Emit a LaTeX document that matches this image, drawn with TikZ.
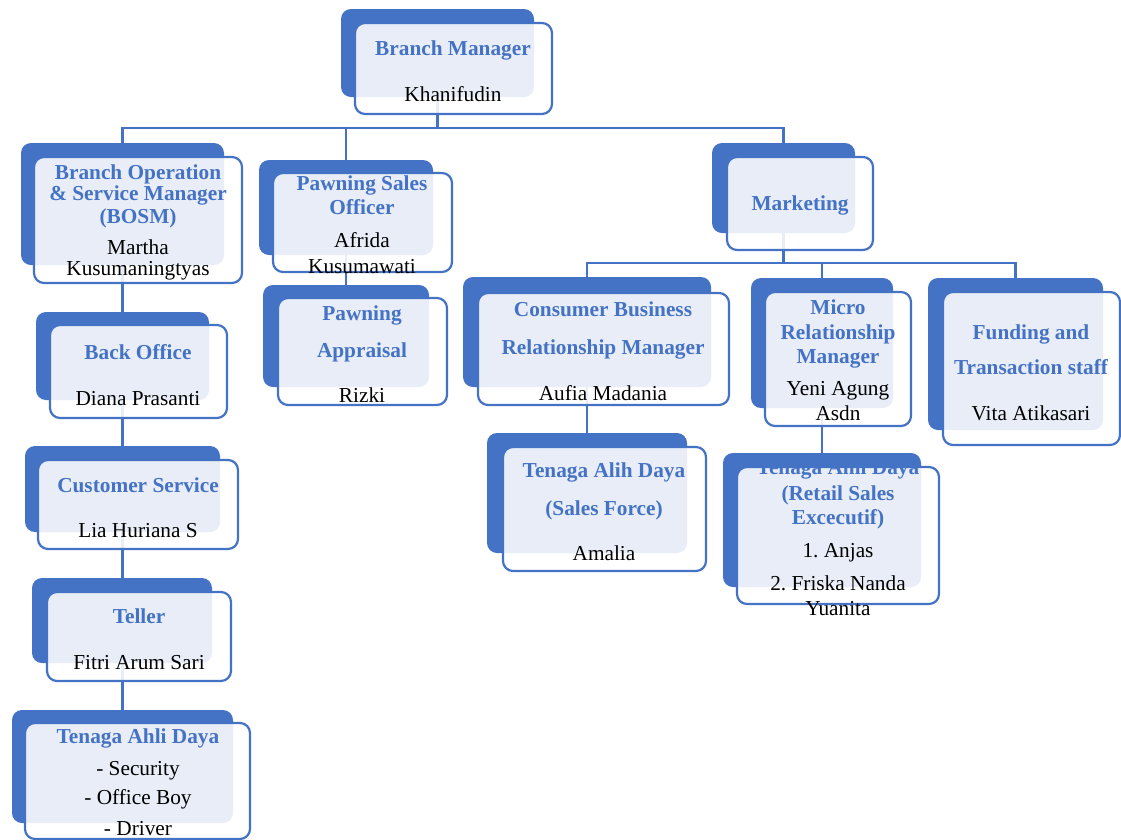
\documentclass[tikz,border=0pt]{standalone}
\usepackage{fontspec}
\setmainfont{Liberation Serif}
\usetikzlibrary{backgrounds}
\definecolor{obl}{HTML}{4472C4}
\frenchspacing
\newcounter{tlc}
\newcommand\obox[9]{%
  \node[backbox, minimum width={(#4-#2)*1pt}, minimum height={(#5-#3)*1pt}] (#1-b) at ({(#2+#4)/2},{(#3+#5)/2}) {};
  \node[frontbox, minimum width={(#8-#6)*1pt}, minimum height={(#9-#7)*1pt}] (#1-f) at ({(#6+#8)/2},{(#7+#9)/2}) {};}
\newcommand\tline[4]{\stepcounter{tlc}\node[#1] (tl\arabic{tlc}) at (#2,{#3+7}) {#4};}
\tikzset{
  backbox/.style={fill=obl, draw=none, rounded corners=10pt, inner sep=0pt, outer sep=0pt},
  frontbox/.style={fill=white, fill opacity=0.88, draw=obl, line width=2.2pt, rounded corners=10pt, inner sep=0pt, outer sep=0pt},
  ttl/.style={font=\bfseries\fontsize{21.3}{24}\selectfont, text=obl, anchor=base, inner sep=0pt},
  nm/.style={font=\fontsize{21.3}{24}\selectfont, text=black, anchor=base, inner sep=0pt},
  conn/.style={draw=obl, line width=2.8pt}
}
\begin{document}
\begin{tikzpicture}[x=1pt,y=-1pt]
\useasboundingbox (0,0) rectangle (1121,839);
% boxes
\obox{bm}{341}{9}{534}{97}{355}{23}{552}{114}
\obox{bosm}{21}{143}{224}{265}{34}{157}{242}{283}
\obox{pso}{259}{160}{433}{255}{273}{173}{452}{272}
\obox{pa}{263}{285}{429}{387}{278}{298}{447}{405}
\obox{mkt}{712}{143}{855}{233}{727}{157}{873}{250}
\obox{bo}{36}{312}{209}{400}{50}{325}{227}{418}
\obox{cs}{25}{446}{220}{532}{38}{460}{238}{549}
\obox{tel}{32}{578}{212}{663}{47}{592}{231}{681}
\obox{tad}{12}{710}{233}{823}{25}{723}{250}{839}
\obox{cb}{463}{277}{711}{387}{478}{293}{729}{405}
\obox{tsf}{487}{433}{687}{553}{503}{447}{706}{571}
\obox{mic}{751}{278}{893}{408}{765}{292}{911}{426}
\obox{fun}{928}{278}{1103}{430}{943}{292}{1120}{445}
\obox{ret}{723}{453}{921}{587}{737}{467}{939}{604}
% connectors
\begin{pgfonlayer}{background}
\fill[white] (0,0) rectangle (1121,839);
\coordinate (j1) at (437,128);
\coordinate (j2) at (784,263);
\draw[conn] (bm-b.center) -- (bm-b.center |- j1);
\draw[conn] (bosm-b.center) |- (mkt-b.center |- j1) -- (mkt-b.center);
\draw[conn] (pso-b.center) -- (pso-b.center |- j1);
\draw[conn] (bosm-b.center) -- (tad-b.center);
\draw[conn] (pso-b.center) -- (pa-b.center);
\draw[conn] (mkt-b.center) -- (mkt-b.center |- j2);
\draw[conn] (cb-b.center) |- (fun-b.center |- j2) -- (fun-b.center);
\draw[conn] (mic-b.center) -- (mic-b.center |- j2);
\draw[conn] (cb-b.center) -- (tsf-b.center);
\draw[conn] (mic-b.center) -- (ret-b.center);
\end{pgfonlayer}
% texts
\tline{ttl}{453}{48}{Branch Manager}
\tline{nm}{453}{94}{Khanifudin}
\tline{ttl}{138}{172}{Branch Operation}
\tline{ttl}{138}{193}{\& Service Manager}
\tline{ttl}{138}{216}{(BOSM)}
\tline{nm}{138}{247}{Martha}
\tline{nm}{138}{268}{Kusumaningtyas}
\tline{ttl}{362}{183}{Pawning Sales}
\tline{ttl}{362}{207}{Officer}
\tline{nm}{362}{240}{Afrida}
\tline{nm}{362}{266}{Kusumawati}
\tline{ttl}{362}{313}{Pawning}
\tline{ttl}{362}{350}{Appraisal}
\tline{nm}{362}{395}{Rizki}
\tline{ttl}{800}{203}{Marketing}
\tline{ttl}{138}{352}{Back Office}
\tline{nm}{138}{398}{Diana Prasanti}
\tline{ttl}{138}{485}{Customer Service}
\tline{nm}{138}{530}{Lia Huriana S}
\tline{ttl}{139}{616}{Teller}
\tline{nm}{139}{662}{Fitri Arum Sari}
\tline{ttl}{138}{736}{Tenaga Ahli Daya}
\tline{nm}{138}{768}{- Security}
\tline{nm}{138}{797}{- Office Boy}
\tline{nm}{138}{828}{- Driver}
\tline{ttl}{603}{309}{Consumer Business}
\tline{ttl}{603}{347}{Relationship Manager}
\tline{nm}{603}{393}{Aufia Madania}
\tline{ttl}{604}{470}{Tenaga Alih Daya}
\tline{ttl}{604}{508}{(Sales Force)}
\tline{nm}{604}{553}{Amalia}
\tline{ttl}{838}{307}{Micro}
\tline{ttl}{838}{332}{Relationship}
\tline{ttl}{838}{356}{Manager}
\tline{nm}{838}{388}{Yeni Agung}
\tline{nm}{838}{413}{Asdn}
\tline{ttl}{1031}{332}{Funding and}
\tline{ttl}{1031}{367}{Transaction staff}
\tline{nm}{1031}{413}{Vita Atikasari}
\tline{ttl}{838}{467}{Tenaga Ahli Daya}
\tline{ttl}{838}{493}{(Retail Sales}
\tline{ttl}{838}{517}{Excecutif)}
\tline{nm}{838}{550}{1. Anjas}
\tline{nm}{838}{583}{2. Friska Nanda}
\tline{nm}{838}{608}{Yuanita}
\end{tikzpicture}
\end{document}
